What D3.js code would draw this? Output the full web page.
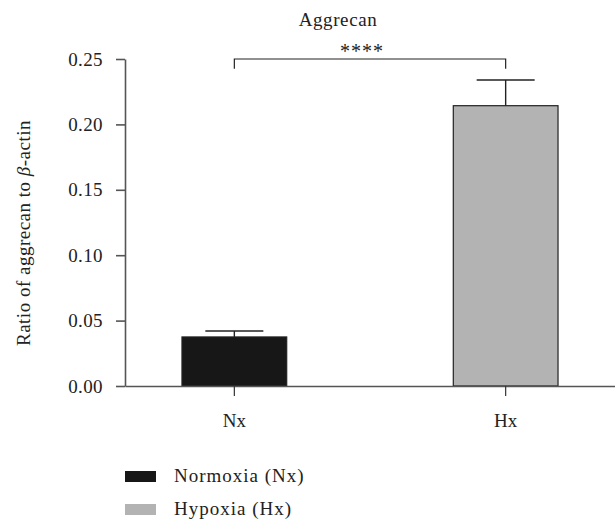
<!DOCTYPE html>
<html><head><meta charset="utf-8">
<script src="https://cdn.jsdelivr.net/npm/d3@7"></script>
<style>body{margin:0;background:#fff}text{font-family:"Liberation Serif","Times New Roman",serif;fill:#222}</style>
</head><body><svg id="c" width="615" height="521"></svg>
<script>
const categories = ["Nx", "Hx"];
const values = [0.0375, 0.2143];
const errors = [0.0045, 0.0197];
const legendLabels = ["Normoxia (Nx)", "Hypoxia (Hx)"];
const colors = ["#171717", "#b3b3b3"];
const yTicks = [0, 0.05, 0.10, 0.15, 0.20, 0.25];
const title = "Aggrecan";
const sigLabel = "****";

(function () {
const svg = d3.select("#c");
const FS = 19;
const mLeft = 125, mRight = 615, mTop = 59, mBottom = 386;
const x = d3.scaleBand().domain(categories).range([mLeft, mRight]).paddingInner(0.614).paddingOuter(0.21);
const y = d3.scaleLinear().domain([0, 0.25]).range([mBottom, mTop]);

// y axis
const ya = svg.append("g").attr("transform", `translate(${mLeft},0)`)
  .call(d3.axisLeft(y).tickValues(yTicks).tickFormat(d3.format(".2f")).tickSize(9).tickSizeOuter(0));
ya.select(".domain").attr("stroke", "#555").attr("stroke-width", 1.6);
ya.selectAll(".tick line").attr("stroke", "#555").attr("stroke-width", 1.6);
ya.selectAll(".tick text").attr("font-size", FS).attr("x", -22).attr("fill", "#222")
  .style("font-family", "'Liberation Serif', serif").style("letter-spacing", "0.4px");

// bars
svg.selectAll("rect.bar").data(categories).enter().append("rect").attr("class", "bar")
  .attr("x", d => x(d)).attr("width", x.bandwidth())
  .attr("y", (d, i) => y(values[i])).attr("height", (d, i) => mBottom - y(values[i]))
  .attr("fill", (d, i) => colors[i]).attr("stroke", "#222").attr("stroke-width", 1.2);

// error bars
categories.forEach((c, i) => {
  const cx = x(c) + x.bandwidth() / 2;
  svg.append("line").attr("x1", cx).attr("x2", cx).attr("y1", y(values[i])).attr("y2", y(values[i] + errors[i]))
    .attr("stroke", "#222").attr("stroke-width", 1.4);
  svg.append("line").attr("x1", cx - 29).attr("x2", cx + 29).attr("y1", y(values[i] + errors[i])).attr("y2", y(values[i] + errors[i]))
    .attr("stroke", "#222").attr("stroke-width", 1.6);
});

// x axis
const xa = svg.append("g").attr("transform", `translate(0,${mBottom})`)
  .call(d3.axisBottom(x).tickSize(10).tickSizeOuter(0));
xa.select(".domain").attr("stroke", "#555").attr("stroke-width", 1.6);
xa.selectAll(".tick line").attr("stroke", "#333").attr("stroke-width", 1.2);
xa.selectAll(".tick text").attr("font-size", FS).attr("y", 28).attr("fill", "#222")
  .style("font-family", "'Liberation Serif', serif");

// significance bracket
const x1 = x("Nx") + x.bandwidth() / 2, x2 = x("Hx") + x.bandwidth() / 2;
svg.append("path").attr("d", `M${x1},${y(0.2425)}V${y(0.25)}H${x2}V${y(0.2425)}`)
  .attr("fill", "none").attr("stroke", "#222").attr("stroke-width", 1.2);
svg.append("text").attr("x", (x1 + x2) / 2 - 8).attr("y", 58).attr("text-anchor", "middle")
  .attr("font-size", 20).style("letter-spacing", "1px").attr("fill", "#444").text(sigLabel);

// title
svg.append("text").attr("x", 338).attr("y", 26).attr("text-anchor", "middle").attr("font-size", FS)
  .style("letter-spacing", "0.6px").text(title);

// y label
const yl = svg.append("text").attr("transform", "translate(30,233) rotate(-90)").attr("text-anchor", "middle")
  .attr("font-size", FS).style("letter-spacing", "0.5px");
yl.append("tspan").text("Ratio of aggrecan to ");
yl.append("tspan").attr("font-style", "italic").text("β");
yl.append("tspan").text("-actin");

// legend
legendLabels.forEach((l, i) => {
  const ly = 471 + i * 33;
  svg.append("rect").attr("x", 125).attr("y", ly).attr("width", 31).attr("height", 11).attr("fill", colors[i]);
  svg.append("text").attr("x", 174).attr("y", ly + 11).attr("font-size", FS).style("letter-spacing", "1px").text(l);
});
})();
</script></body></html>
